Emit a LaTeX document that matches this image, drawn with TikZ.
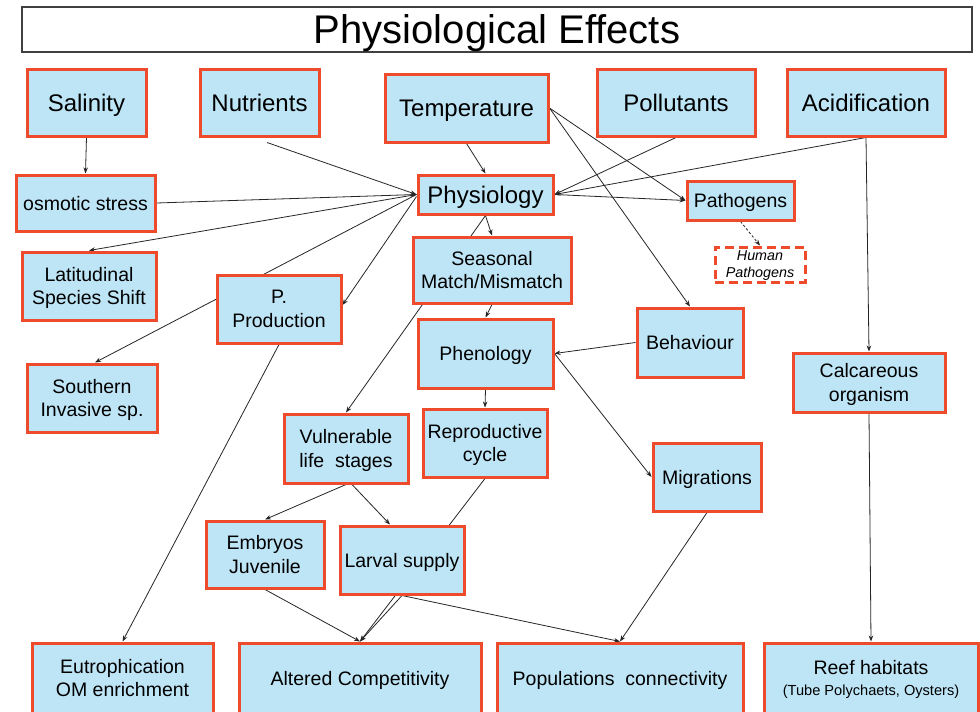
\documentclass[tikz,border=0pt]{standalone}
\usepackage{fontspec}
\setmainfont{Liberation Sans}
\usetikzlibrary{arrows.meta,backgrounds}
\definecolor{boxfill}{RGB}{190,229,246}
\definecolor{boxline}{RGB}{238,74,44}
\pgfdeclarelayer{paper}
\pgfsetlayers{paper,background,main}
\tikzset{
  box/.style={draw=boxline, fill=boxfill, line width=3pt, inner sep=0pt, align=center, text depth=0pt, font=\fontsize{19.5}{23.5}\selectfont},
  bigbox/.style={box, font=\fontsize{24}{28}\selectfont},
  dashbox/.style={draw=boxline, fill=white, line width=3pt, dash pattern=on 9pt off 5pt, inner sep=0pt, align=center, text depth=0pt, font=\fontsize{14.3}{17}\selectfont\itshape},
  titlebox/.style={draw=black!75, fill=white, line width=1.3pt, inner sep=0pt, text depth=0pt, font=\fontsize{40}{44}\selectfont},
  conn/.style={draw=black!85, line width=0.8pt, -{Stealth[length=6pt,width=4.5pt]}},
  dconn/.style={conn, dash pattern=on 2.5pt off 2pt}
}
\begin{document}
\begin{tikzpicture}[x=1pt,y=-1pt]
\useasboundingbox (0,0) rectangle (980,712);
\begin{pgfonlayer}{paper}
\fill[white] (0,0) rectangle (980,712);
\end{pgfonlayer}
\clip (0,0) rectangle (980,712);
% title
\node[titlebox, minimum width=950, minimum height=45] (title) at (497,29.5) {Physiological Effects};
% top row
\node[bigbox, minimum width=119, minimum height=67] (sal) at (86.5,102.5) {Salinity};
\node[bigbox, minimum width=119, minimum height=67] (nut) at (259.5,102.5) {Nutrients};
\node[bigbox, minimum width=163, minimum height=68] (temp) at (466.5,108) {Temperature};
\node[bigbox, minimum width=158, minimum height=67] (pol) at (676,102.5) {Pollutants};
\node[bigbox, minimum width=158, minimum height=67] (acid) at (866,102.5) {Acidification};
% second row
\node[box, minimum width=139, minimum height=56] (osm) at (85.5,203) {osmotic stress};
\node[bigbox, minimum width=135, minimum height=39] (phys) at (485.5,194.5) {Physiology};
\node[box, minimum width=107, minimum height=39] (path) at (740.5,200.5) {Pathogens};
\node[dashbox, minimum width=90, minimum height=35] (hpath) at (760,264.5) {Human\\Pathogens};
% third
\node[box, minimum width=134, minimum height=68] (lat) at (89,286) {Latitudinal\\Species Shift};
\node[box, minimum width=158, minimum height=66] (seas) at (492,270) {Seasonal\\Match/Mismatch};
\node[box, minimum width=124, minimum height=68] (pprod) at (279,309) {P.\\Production};
\node[box, minimum width=135, minimum height=69] (phen) at (485.5,353.5) {Phenology};
\node[box, minimum width=106, minimum height=69] (beh) at (690,342.5) {Behaviour};
\node[box, minimum width=130, minimum height=68] (south) at (92,398) {Southern\\Invasive sp.};
\node[box, minimum width=152, minimum height=59] (calc) at (869,382.5) {Calcareous\\organism};
\node[box, minimum width=124, minimum height=69] (vul) at (346,448.5) {Vulnerable\\life\ \ stages};
\node[box, minimum width=124, minimum height=68] (repro) at (485,443) {Reproductive\\cycle};
\node[box, minimum width=108, minimum height=68] (mig) at (707,477) {Migrations};
\node[box, minimum width=118, minimum height=67] (emb) at (265,554.5) {Embryos\\Juvenile};
\node[box, minimum width=124, minimum height=68] (larv) at (402,560) {Larval supply};
% bottom
\node[box, minimum width=181, minimum height=70] (eut) at (122.5,678) {Eutrophication\\OM enrichment};
\node[box, minimum width=242, minimum height=70] (alt) at (360,678) {Altered Competitivity};
\node[box, minimum width=246, minimum height=70] (popc) at (620,678) {Populations\ \ connectivity};
\node[box, minimum width=214, minimum height=70] (reef) at (871,678) {Reef habitats\\[-3pt]{\fontsize{14.6}{17}\selectfont(Tube Polychaets, Oysters)}};
\begin{pgfonlayer}{background}
\draw[conn] (sal.south) -- (osm.north);
\draw[conn] ([xshift=7.5pt,yshift=-5pt]nut.south) -- (phys.west);
\draw[conn] (osm.east) -- (phys.west);
\draw[conn] (phys.west) -- (lat.north);
\draw[conn] (phys.west) -- ([xshift=3pt]south.north);
\draw[conn] ([yshift=-2pt]phys.west) -- ([yshift=4pt]pprod.east);
\draw[conn] (temp.south) -- (phys.north);
\draw[conn] (temp.east) -- (path.west);
\draw[conn] (temp.east) -- (beh.north);
\draw[conn] (pol.south) -- (phys.east);
\draw[conn] (acid.south) -- (phys.east);
\draw[conn] (phys.east) -- (path.west);
\draw[dconn] (path.south) -- (hpath.north);
\draw[conn] (acid.south) -- (calc.north);
\draw[conn] (calc.south) -- (reef.north);
\draw[conn] (phys.south) -- (seas.north);
\draw[conn] (phys.south) -- (vul.north);
\draw[conn] (seas.south) -- (phen.north);
\draw[conn] (phen.south) -- (repro.north);
\draw[conn] (beh.west) -- (phen.east);
\draw[conn] (phen.east) -- (mig.west);
\draw[conn] (vul.south) -- (emb.north);
\draw[conn] ([xshift=6pt]vul.south) -- ([xshift=-12pt]larv.north);
\draw[conn] (repro.south) -- (alt.north);
\draw[conn] (larv.south) -- (alt.north);
\draw[conn] (emb.south) -- (alt.north);
\draw[conn] (larv.south) -- (popc.north);
\draw[conn] (mig.south) -- (popc.north);
\draw[conn] (pprod.south) -- (eut.north);
\end{pgfonlayer}
\end{tikzpicture}
\end{document}
